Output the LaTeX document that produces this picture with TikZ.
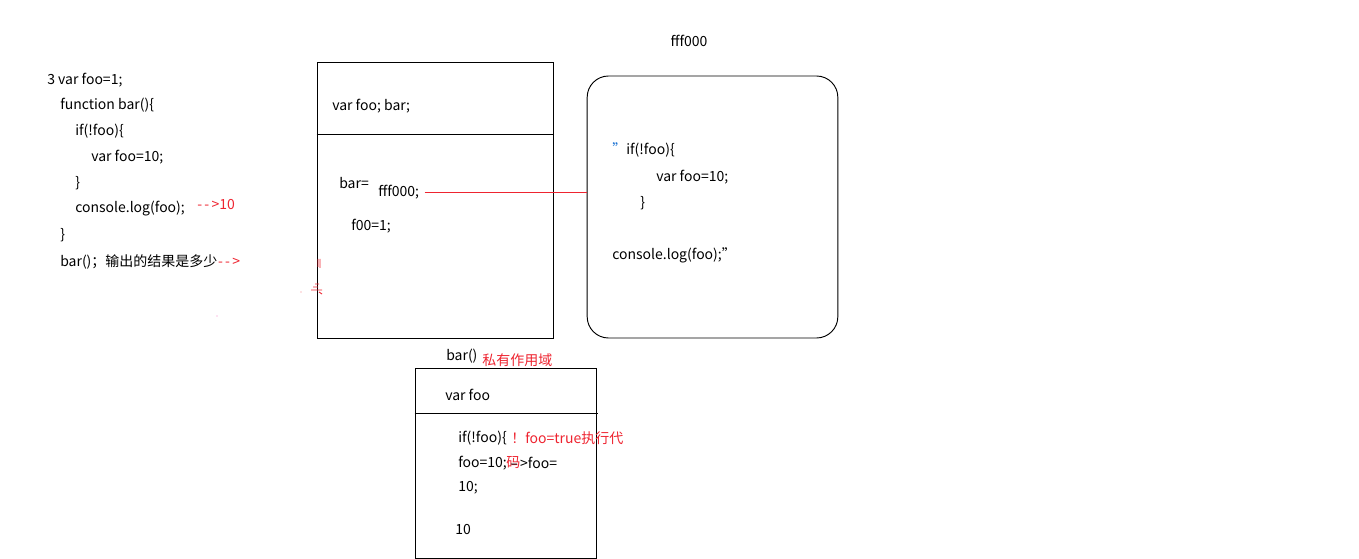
\documentclass[tikz,border=0pt]{standalone}
\usepackage{fontspec}
\setmainfont{Noto Sans CJK SC}
\usetikzlibrary{positioning}
\definecolor{redtxt}{RGB}{238,36,48}
\definecolor{bluemark}{RGB}{20,110,210}
\tikzset{
    code/.style={anchor=west, inner sep=0pt, font=\fontsize{10.5}{12}\selectfont},
    note/.style={code, text=redtxt},
    frame/.style={draw, line width=0.7pt, inner sep=0pt}
}

\begin{document}
\begin{tikzpicture}[x=0.75pt, y=-0.75pt]
    \useasboundingbox (0,0) rectangle (1359,559);
    % source code on the left
    \node[code] (l1) at (47, 80) {3 var foo=1;};
    \node[code] (l2) at (60, 105) {function bar()\{};
    \node[code] (l3) at (75, 131) {if(!foo)\{};
    \node[code] (l4) at (91, 157) {var foo=10;};
    \node[code] (l5) at (75, 183) {\}};
    \node[code] (l6) at (75, 209) {console.log(foo);};
    \node[note] (r6) at (197, 205) {-\,-\,>10};
    \node[code] (l7) at (60, 235) {\}};
    \node[code] (l8) at (60, 262) {bar()；输出的结果是多少};
    \node[note] (r8) at (l8.east) {-\,-\,>};
    % global scope
    \node[frame, minimum width=177pt, minimum height=207pt] (global) at (435, 200) {};
    \draw[line width=0.7pt] (global.west |- 0,134) -- (global.east |- 0,134);
    \node[code] (gvar) at (332, 106) {var foo; bar;};
    \node[code] (gbar) at (339, 183) {bar=};
    \node[code] (gref) at (378, 192) {fff000;};
    \node[code] (gfoo) at (351, 226) {f00=1;};
    % function body in the heap
    \node[code, anchor=center] (addr) at (689, 41) {fff000};
    \node[frame, rounded corners=16pt, minimum width=188pt, minimum height=196.5pt] (fn) at (712.5, 207) {};
    \node[code, text=bluemark] (q1) at (612, 149) {\symbol{"22}};
    \node[code] (f1) at (626, 150) {if(!foo)\{};
    \node[code] (f2) at (656, 177) {var foo=10;};
    \node[code] (f3) at (640, 203) {\}};
    \node[code] (f4) at (612, 255) {console.log(foo);\symbol{"22}};
    \draw[redtxt, line width=0.7pt] ([xshift=4pt]gref.east) -- (gref.east -| fn.west);
    % private scope of bar()
    \node[code] (call) at (446, 356) {bar()};
    \node[note] (priv) at (482, 360) {私有作用域};
    \node[frame, minimum width=135.75pt, minimum height=142.5pt] (scope) at (505.5, 463) {};
    \draw[line width=0.7pt] (scope.west |- 0,413) -- ([xshift=1.5pt]scope.east |- 0,413);
    \node[code] (svar) at (445, 395) {var foo};
    \node[code] (s1) at (458, 438) {if(!foo)\{};
    \node[note] (n1) at (511, 438) {！foo=true执行代};
    \node[code] (s2) at (458, 463) {foo=10;};
    \node[note] (n2) at (506, 463) {码};
    \node[code] (s3) at (510, 463) {–\,>foo=};
    \node[code] (s4) at (458, 488) {10;};
    \node[code] (s5) at (455, 530) {10};
    % stray pen marks
    \draw[redtxt, line width=0.7pt] (318, 259) -- (318, 267) (320, 259) -- (320, 268)
        (311, 290) -- (322, 290) (313, 287) -- (318, 287) (315, 284) -- (319, 284)
        (319, 292) -- (322, 294);
    \fill[redtxt!60] (301, 292) circle (0.6);
    \fill[magenta!50] (217, 316) circle (0.6);
\end{tikzpicture}
\end{document}
